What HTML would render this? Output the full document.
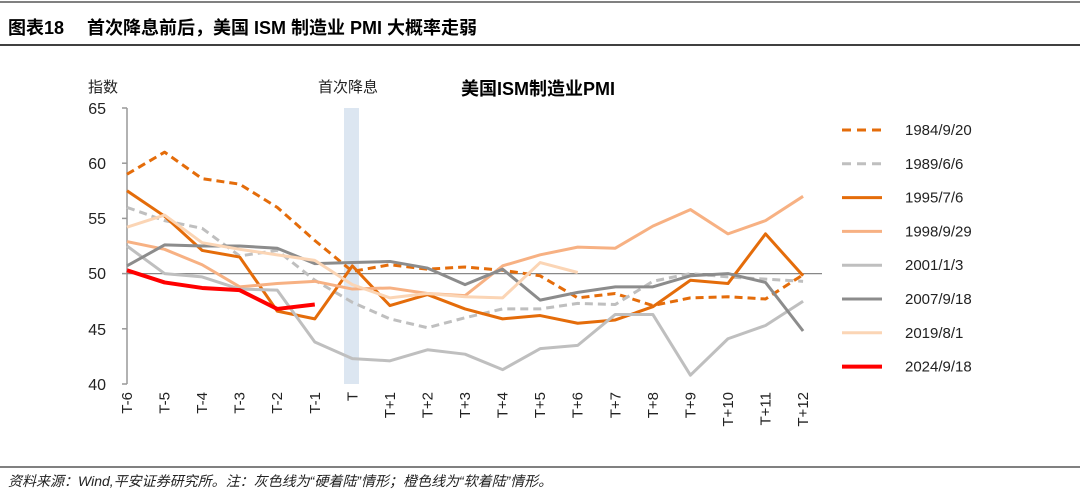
<!DOCTYPE html><html><head><meta charset="utf-8"><style>body{margin:0;background:#fff}svg{display:block}text{font-family:"Liberation Sans","Noto Sans CJK SC",sans-serif}</style></head><body>
<svg width="1080" height="501" xmlns="http://www.w3.org/2000/svg">
<line x1="0" y1="2" x2="1080" y2="2" stroke="#000" stroke-width="1"/>
<text x="8" y="34" font-size="18" font-weight="bold" fill="#000">图表18　 首次降息前后，美国 ISM 制造业 PMI 大概率走弱</text>
<line x1="0" y1="45" x2="1080" y2="45" stroke="#000" stroke-width="1.5"/>
<text x="88" y="92" font-size="15" fill="#222">指数</text>
<text x="318" y="92" font-size="15" fill="#222">首次降息</text>
<text x="461" y="95" font-size="18" font-weight="bold" fill="#000">美国ISM制造业PMI</text>
<rect x="344" y="108" width="15" height="276" fill="#dce6f1"/>
<g font-size="16" fill="#222" text-anchor="end">
<text x="106" y="114">65</text><text x="106" y="169">60</text><text x="106" y="224">55</text><text x="106" y="279">50</text><text x="106" y="335">45</text><text x="106" y="390">40</text></g>
<g stroke="#999" stroke-width="1.5"><line x1="127" y1="108" x2="127" y2="384"/>
<line x1="122" y1="108" x2="127" y2="108"/><line x1="122" y1="163.2" x2="127" y2="163.2"/><line x1="122" y1="218.4" x2="127" y2="218.4"/><line x1="122" y1="273.6" x2="127" y2="273.6"/><line x1="122" y1="328.8" x2="127" y2="328.8"/><line x1="122" y1="384" x2="127" y2="384"/></g>
<line x1="127" y1="273.6" x2="822" y2="273.6" stroke="#888" stroke-width="1.3"/>
<g id="s" fill="none" stroke-width="3" stroke-linejoin="round"></g>
<g font-size="15" fill="#222" id="xl"></g>
<g id="lg"></g>
<line x1="0" y1="467" x2="1080" y2="467" stroke="#000" stroke-width="1"/>
<text x="8" y="486" font-size="14" font-style="italic" fill="#222">资料来源：Wind,平安证券研究所。注：灰色线为“硬着陆”情形；橙色线为“软着陆”情形。</text>
<script>
var ns="http://www.w3.org/2000/svg";
function X(i){return 127+i*37.56}function Y(v){return 384-(v-40)*11.04}
var S=[
["1984/9/20","#e46c0a","8,5",[59,61,58.6,58.1,56,53,50.2,50.8,50.4,50.6,50.3,49.8,47.8,48.2,47.1,47.8,47.9,47.7,49.9]],
["1989/6/6","#bfbfbf","8,5",[56,54.8,54.1,51.6,52.1,49.4,47.4,45.9,45.1,46,46.8,46.8,47.3,47.2,49.3,50,49.7,49.5,49.3]],
["1995/7/6","#e46c0a","",[57.5,55.2,52.1,51.5,46.6,45.9,50.7,47.1,48.1,46.8,45.9,46.2,45.5,45.8,47,49.4,49.1,53.6,49.8]],
["1998/9/29","#f7b183","",[52.9,52.2,50.8,48.8,49.1,49.3,48.6,48.7,48.2,48,50.7,51.7,52.4,52.3,54.3,55.8,53.6,54.8,57]],
["2001/1/3","#bfbfbf","",[52.5,50,49.7,48.6,48.5,43.8,42.3,42.1,43.1,42.7,41.3,43.2,43.5,46.3,46.3,40.8,44.1,45.3,47.5]],
["2007/9/18","#8c8c8c","",[50.7,52.6,52.5,52.5,52.3,50.9,51,51.1,50.5,49,50.4,47.6,48.3,48.8,48.8,49.8,50,49.2,44.8]],
["2019/8/1","#fbd5b5","",[54.2,55.3,52.8,52.2,51.7,51.2,49,47.8,48.2,47.9,47.8,51,50.1]],
["2024/9/18","#ff0000","",[50.3,49.2,48.7,48.5,46.8,47.2]]];
var g=document.getElementById("s"),lg=document.getElementById("lg");
S.forEach(function(s,k){var p=document.createElementNS(ns,"polyline");
p.setAttribute("points",s[3].map(function(v,i){return X(i)+","+Y(v)}).join(" "));
p.setAttribute("stroke",s[1]);if(s[2])p.setAttribute("stroke-dasharray",s[2]);if(k==7)p.setAttribute("stroke-width","4");g.appendChild(p);
var y=130+k*33.8;var l=document.createElementNS(ns,"line");l.setAttribute("x1",842);l.setAttribute("x2",882);l.setAttribute("y1",y);l.setAttribute("y2",y);
l.setAttribute("stroke",s[1]);l.setAttribute("stroke-width",k==7?4:3);if(s[2])l.setAttribute("stroke-dasharray","9,6");lg.appendChild(l);
var t=document.createElementNS(ns,"text");t.setAttribute("x",905);t.setAttribute("y",y+5);t.setAttribute("font-size",15);t.setAttribute("fill","#222");t.textContent=s[0];lg.appendChild(t);});
var xl=document.getElementById("xl");
for(var i=0;i<19;i++){var n=i-6;var s=n<0?"T"+n:n==0?"T":"T+"+n;var t=document.createElementNS(ns,"text");
t.setAttribute("transform","translate("+(X(i)+5)+",392) rotate(-90)");t.setAttribute("text-anchor","end");t.textContent=s;xl.appendChild(t);}
</script>
</svg></body></html>
